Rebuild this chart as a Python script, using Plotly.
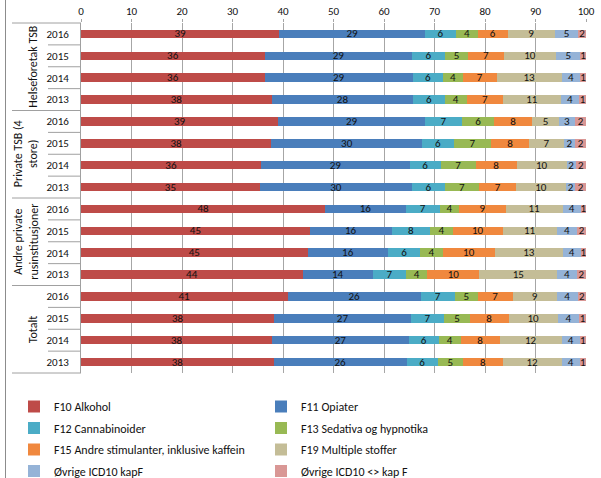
import plotly.graph_objects as go

groups = ["Helseforetak TSB", "Private TSB (4<br>store)", "Andre private<br>rusinstitusjoner", "Totalt"]
years = ["2016", "2015", "2014", "2013"]

series_names = [
    "F10 Alkohol", "F11 Opiater", "F12 Cannabinoider", "F13 Sedativa og hypnotika",
    "F15 Andre stimulanter, inklusive kaffein", "F19 Multiple stoffer",
    "Øvrige ICD10 kapF", "Øvrige ICD10 <> kap F",
]
colors = ["#BE4B48", "#4A7EBB", "#4BACC6", "#98B954", "#F0883E", "#C4BD97", "#95B3D7", "#D99795"]

# rows: Helseforetak 2016..2013, Private TSB 2016..2013, Andre private 2016..2013, Totalt 2016..2013
f10 = [39.3, 36.4, 36.4, 37.8, 39.1, 37.7, 35.7, 35.4, 48.4, 45.3, 44.9, 43.9, 40.9, 38.3, 37.9, 38.2]
f11 = [28.8, 29.2, 29.3, 28.0, 29.0, 29.9, 29.4, 30.2, 15.9, 16.2, 15.9, 13.9, 26.4, 27.0, 27.0, 26.3]
f12 = [6.2, 6.4, 6.0, 6.2, 7.4, 6.2, 6.1, 6.4, 6.7, 7.7, 6.4, 6.6, 6.7, 6.6, 5.9, 6.1]
f13 = [4.3, 4.7, 3.9, 4.4, 6.3, 7.4, 7.0, 6.9, 3.9, 4.4, 4.4, 4.2, 4.6, 5.1, 4.4, 5.1]
f15 = [5.9, 7.0, 6.7, 7.2, 7.6, 7.6, 8.1, 7.2, 9.2, 9.9, 10.4, 10.3, 6.9, 7.7, 7.7, 7.8]
f19 = [9.3, 10.4, 12.9, 11.4, 5.2, 6.8, 9.9, 10.0, 11.3, 10.7, 13.4, 15.4, 8.7, 9.7, 12.3, 11.7]
ovr_f = [4.7, 4.8, 3.7, 3.7, 3.3, 2.3, 1.8, 1.8, 3.6, 4.1, 3.6, 3.9, 4.2, 4.3, 3.6, 3.6]
ovr_nf = [1.5, 1.1, 1.1, 1.3, 2.1, 2.1, 2.0, 2.1, 1.0, 1.7, 1.0, 1.8, 1.6, 1.3, 1.2, 1.2]
series_values = [f10, f11, f12, f13, f15, f19, ovr_f, ovr_nf]

x_ticks = list(range(0, 101, 10))

row_ids = [f"{g}|{y}" for g in groups for y in years]
row_years = [y for g in groups for y in years]

FONT = "Calibri, Carlito, Lato, sans-serif"
W, H = 601, 478
ML, MR, MT, MB = 81, 15, 23, 105
pw = W - ML - MR
ph = H - MT - MB


def px_x(px):
    return (px - ML) / pw


def px_y(py):
    return 1 - (py - MT) / ph


fig = go.Figure()
for i, (name, vals, col) in enumerate(zip(series_names, series_values, colors)):
    fig.add_trace(go.Bar(
        name=name, x=vals, y=row_ids, orientation="h",
        marker=dict(color=col, line=dict(width=0)),
        texttemplate="%{x:.0f}", textposition="inside", insidetextanchor="middle",
        textangle=0, constraintext="none",
        textfont=dict(family=FONT, size=11, color="#111111"),
        legend="legend" if i % 2 == 0 else "legend2",
        legendgroup=name,
        hoverinfo="x+name",
    ))

shapes = []
n = len(row_ids)
gray = "#A0A0A0"
for i in range(n + 1):
    yy = 1 - i / n
    x0 = px_x(12) if i % len(years) == 0 else px_x(48)
    shapes.append(dict(type="line", xref="paper", yref="paper", x0=x0, x1=0, y0=yy, y1=yy,
                       line=dict(color=gray, width=1)))
# outer frame line on the left
shapes.append(dict(type="line", xref="paper", yref="paper", x0=px_x(5.5), x1=px_x(5.5),
                   y0=px_y(H + 5), y1=px_y(-5), line=dict(color="#8C8C8C", width=1)))

annotations = []
for k, g in enumerate(groups):
    yc = 1 - (k * len(years) + len(years) / 2) / n
    xc = px_x(26) if "<br>" in g else px_x(33)
    annotations.append(dict(text=g, x=xc, y=yc, xref="paper", yref="paper", showarrow=False,
                            textangle=-90, font=dict(family=FONT, size=12, color="#111111"),
                            xanchor="center", yanchor="middle", align="center"))

legend_common = dict(xanchor="left", yanchor="top", orientation="v", tracegroupgap=2.5,
                     traceorder="grouped", font=dict(family=FONT, size=12, color="#111111"),
                     itemclick=False, bgcolor="rgba(0,0,0,0)")

fig.update_layout(
    width=W, height=H,
    margin=dict(l=ML, r=MR, t=MT, b=MB, pad=0, autoexpand=False),
    paper_bgcolor="white", plot_bgcolor="white",
    barmode="stack", bargap=0.61,
    font=dict(family=FONT, color="#111111"),
    uniformtext=dict(minsize=11, mode="show"),
    shapes=shapes, annotations=annotations,
    xaxis=dict(side="top", range=[0, 100], tickvals=x_ticks, showgrid=True, gridcolor="#A6A6A6",
               gridwidth=1, zeroline=False, showline=False, ticks="outside", ticklen=3,
               tickcolor="#A6A6A6", tickfont=dict(family=FONT, size=11, color="#111111"),
               fixedrange=True),
    yaxis=dict(type="category", categoryorder="array", categoryarray=row_ids, autorange="reversed",
               tickvals=row_ids, ticktext=row_years, showgrid=False, zeroline=False,
               showline=True, linecolor=gray, linewidth=1, ticks="", ticklabelstandoff=9,
               tickfont=dict(family=FONT, size=11, color="#111111"), fixedrange=True),
    legend=dict(x=px_x(14), y=px_y(392), **legend_common),
    legend2=dict(x=px_x(261), y=px_y(392), **legend_common),
    showlegend=True,
)

fig.write_html("out.html", config={"displayModeBar": False},
               post_script="document.body.style.margin='0';")
